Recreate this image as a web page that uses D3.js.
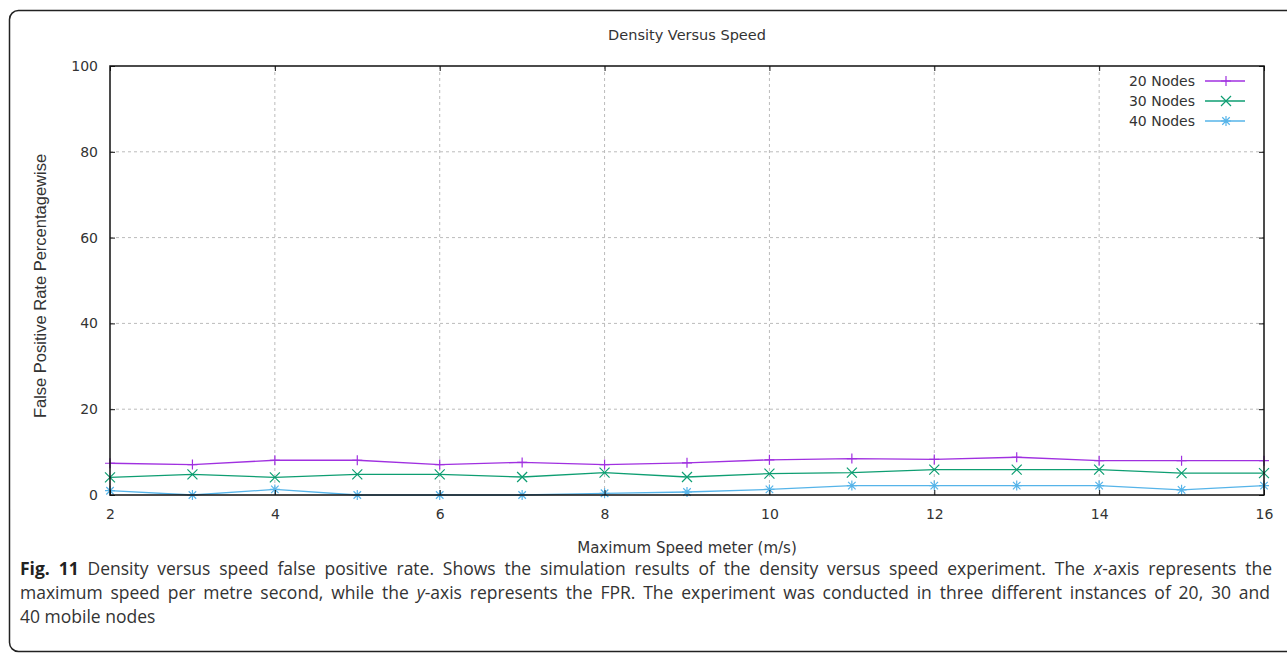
<!DOCTYPE html>
<html>
<head>
<meta charset="utf-8">
<script src="https://cdn.jsdelivr.net/npm/d3@7"></script>
<style>
  body { margin: 0; background: #fff; }
  svg { display: block; }
  .chartfont { font-family: "DejaVu Sans", Verdana, sans-serif; }
  .capfont { font-family: "Open Sans", "Noto Sans", sans-serif; }
</style>
</head>
<body>
<svg id="chart" width="1287" height="653"></svg>
<script>
// data
const speeds = [2, 3, 4, 5, 6, 7, 8, 9, 10, 11, 12, 13, 14, 15, 16];
const nodes20 = [7.4, 7.1, 8.1, 8.1, 7.1, 7.6, 7.1, 7.5, 8.2, 8.5, 8.3, 8.8, 8.0, 8.0, 8.0];
const nodes30 = [4.1, 4.8, 4.1, 4.8, 4.8, 4.2, 5.2, 4.2, 5.0, 5.2, 5.9, 5.9, 5.9, 5.1, 5.1];
const nodes40 = [1.0, 0.0, 1.3, 0.0, 0.0, 0.0, 0.4, 0.7, 1.3, 2.2, 2.2, 2.2, 2.2, 1.2, 2.2];
const seriesNames = ['20 Nodes', '30 Nodes', '40 Nodes'];
const xTicks = [2, 4, 6, 8, 10, 12, 14, 16];
const yTicks = [0, 20, 40, 60, 80, 100];

const titleText = 'Density Versus Speed';
const xAxisLabel = 'Maximum Speed meter (m/s)';
const yAxisLabel = 'False Positive Rate Percentagewise';

const svg = d3.select('#chart');
const margin = {top: 66, right: 23, bottom: 158, left: 110};
const width = +svg.attr('width');
const height = +svg.attr('height');
const innerWidth = width - margin.left - margin.right;
const innerHeight = height - margin.top - margin.bottom;

const color = ['#a030e0', '#0e9e72', '#56b4e9'];
const markers = ['plus', 'cross', 'star'];

// outer figure frame (rounded, open to the right)
svg.append('rect')
  .attr('x', 9.5).attr('y', 10.5)
  .attr('width', 1320).attr('height', 641)
  .attr('rx', 9)
  .attr('fill', 'none')
  .attr('stroke', '#222')
  .attr('stroke-width', 1.5);

const xScale = d3.scaleLinear().domain([2, 16]).range([0, innerWidth]);
const yScale = d3.scaleLinear().domain([0, 100]).range([innerHeight, 0]);

const g = svg.append('g')
  .attr('transform', `translate(${margin.left}, ${margin.top})`)
  .attr('id', 'maingroup');

// grid
g.append('g').selectAll('line')
  .data(xTicks.slice(1, -1)).join('line')
  .attr('x1', d => xScale(d)).attr('x2', d => xScale(d))
  .attr('y1', 0).attr('y2', innerHeight)
  .attr('stroke', '#bbb').attr('stroke-dasharray', '3,3');
g.append('g').selectAll('line')
  .data(yTicks.slice(1, -1)).join('line')
  .attr('y1', d => yScale(d)).attr('y2', d => yScale(d))
  .attr('x1', 0).attr('x2', innerWidth)
  .attr('stroke', '#bbb').attr('stroke-dasharray', '3,3');

// lines
const series = [nodes20, nodes30, nodes40];
const line = d3.line()
  .x((d, i) => xScale(speeds[i]))
  .y(d => yScale(d));

series.forEach((vals, k) => {
  g.append('path')
    .datum(vals)
    .attr('fill', 'none')
    .attr('stroke', color[k])
    .attr('stroke-width', 1.3)
    .attr('d', line);
});

// marker shapes, gnuplot style
function markerPath(type, s) {
  if (type === 'plus') return `M${-s},0H${s}M0,${-s}V${s}`;
  if (type === 'cross') return `M${-s},${-s}L${s},${s}M${-s},${s}L${s},${-s}`;
  return `M${-s},0H${s}M0,${-s}V${s}M${-s * 0.75},${-s * 0.75}L${s * 0.75},${s * 0.75}M${-s * 0.75},${s * 0.75}L${s * 0.75},${-s * 0.75}`;
}

series.forEach((vals, k) => {
  g.append('g').selectAll('path')
    .data(vals).join('path')
    .attr('transform', (d, i) => `translate(${xScale(speeds[i])}, ${yScale(d)})`)
    .attr('d', markerPath(markers[k], 5))
    .attr('fill', 'none')
    .attr('stroke', color[k])
    .attr('stroke-width', 1.2);
});

// border frame drawn on top
g.append('rect')
  .attr('x', 0).attr('y', 0)
  .attr('width', innerWidth).attr('height', innerHeight)
  .attr('fill', 'none')
  .attr('stroke', '#111')
  .attr('stroke-width', 1.5);

// axes (ticks inward, mirrored)
const xAxis = d3.axisBottom(xScale).tickValues(xTicks).tickSize(-5).tickPadding(14).tickFormat(d3.format('d'));
const yAxis = d3.axisLeft(yScale).tickValues(yTicks).tickSize(-5).tickPadding(12).tickFormat(d3.format('d'));
const xAxisTop = d3.axisTop(xScale).tickValues(xTicks).tickSize(-5);
const yAxisRight = d3.axisRight(yScale).tickValues(yTicks).tickSize(-5);

g.append('g').attr('transform', `translate(0, ${innerHeight})`).call(xAxis);
g.append('g').call(yAxis);
g.append('g').attr('class', 'mirror').call(xAxisTop);
g.append('g').attr('class', 'mirror').attr('transform', `translate(${innerWidth}, 0)`).call(yAxisRight);
g.selectAll('.mirror .tick text').remove();
g.selectAll('.domain').remove();
g.selectAll('.tick line').attr('stroke', '#111');
g.selectAll('.tick text')
  .attr('class', 'chartfont')
  .style('font-family', '"DejaVu Sans", Verdana, sans-serif')
  .style('font-size', '14px')
  .attr('fill', '#333');

// labels
svg.append('text')
  .attr('class', 'chartfont')
  .attr('x', margin.left + innerWidth / 2)
  .attr('y', 40)
  .attr('text-anchor', 'middle')
  .style('font-size', '14.5px')
  .attr('fill', '#333')
  .text(titleText);

svg.append('text')
  .attr('class', 'chartfont')
  .attr('x', margin.left + innerWidth / 2)
  .attr('y', 553)
  .attr('text-anchor', 'middle')
  .style('font-size', '15px')
  .attr('fill', '#333')
  .text(xAxisLabel);

svg.append('text')
  .attr('transform', 'rotate(-90)')
  .attr('x', -286)
  .attr('y', 46)
  .attr('text-anchor', 'middle')
  .style('font-family', '"Liberation Sans", Arial, sans-serif')
  .style('font-size', '16.5px')
  .attr('fill', '#333')
  .text(yAxisLabel);

// legend
const legend = g.selectAll('.legend')
  .data(seriesNames).join('g')
  .attr('class', 'legend')
  .attr('transform', (d, i) => `translate(${innerWidth - 59}, ${15 + i * 20})`);
legend.append('text')
  .attr('class', 'chartfont')
  .attr('x', -10)
  .attr('dy', '0.35em')
  .attr('text-anchor', 'end')
  .style('font-size', '14px')
  .attr('fill', '#333')
  .text(d => d);
legend.append('line')
  .attr('x1', 0).attr('x2', 40)
  .attr('stroke', (d, i) => color[i])
  .attr('stroke-width', 1.3);
legend.append('path')
  .attr('transform', 'translate(21, 0)')
  .attr('d', (d, i) => markerPath(markers[i], 5))
  .attr('fill', 'none')
  .attr('stroke', (d, i) => color[i])
  .attr('stroke-width', 1.2);

// caption (justified lines, like the journal layout)
const captionLines = [
  [{b: 'Fig. 11'}, {t: ' Density versus speed false positive rate. Shows the simulation results of the density versus speed experiment. The '}, {i: 'x'}, {t: '-axis represents the'}],
  [{t: 'maximum speed per metre second, while the '}, {i: 'y'}, {t: '-axis represents the FPR. The experiment was conducted in three different instances of 20, 30 and'}],
  [{t: '40 mobile nodes'}]
];
const captionWidths = [1252, 1250, null];
captionLines.forEach((parts, li) => {
  const txt = svg.append('text')
    .attr('class', 'capfont')
    .attr('x', 20)
    .attr('y', 575 + li * 24)
    .style('font-size', '17.5px')
    .attr('fill', '#333');
  parts.forEach(p => {
    const ts = txt.append('tspan');
    if (p.b) ts.attr('font-weight', 'bold').attr('fill', '#222').text(p.b);
    else if (p.i) ts.attr('font-style', 'italic').text(p.i);
    else ts.text(p.t);
  });
  if (captionWidths[li]) {
    const natural = txt.node().getComputedTextLength();
    const spaces = parts.map(p => (p.t || p.b || p.i).split(' ').length - 1).reduce((a, b) => a + b, 0);
    txt.style('word-spacing', `${(captionWidths[li] - natural) / spaces}px`);
  }
});
</script>
</body>
</html>
